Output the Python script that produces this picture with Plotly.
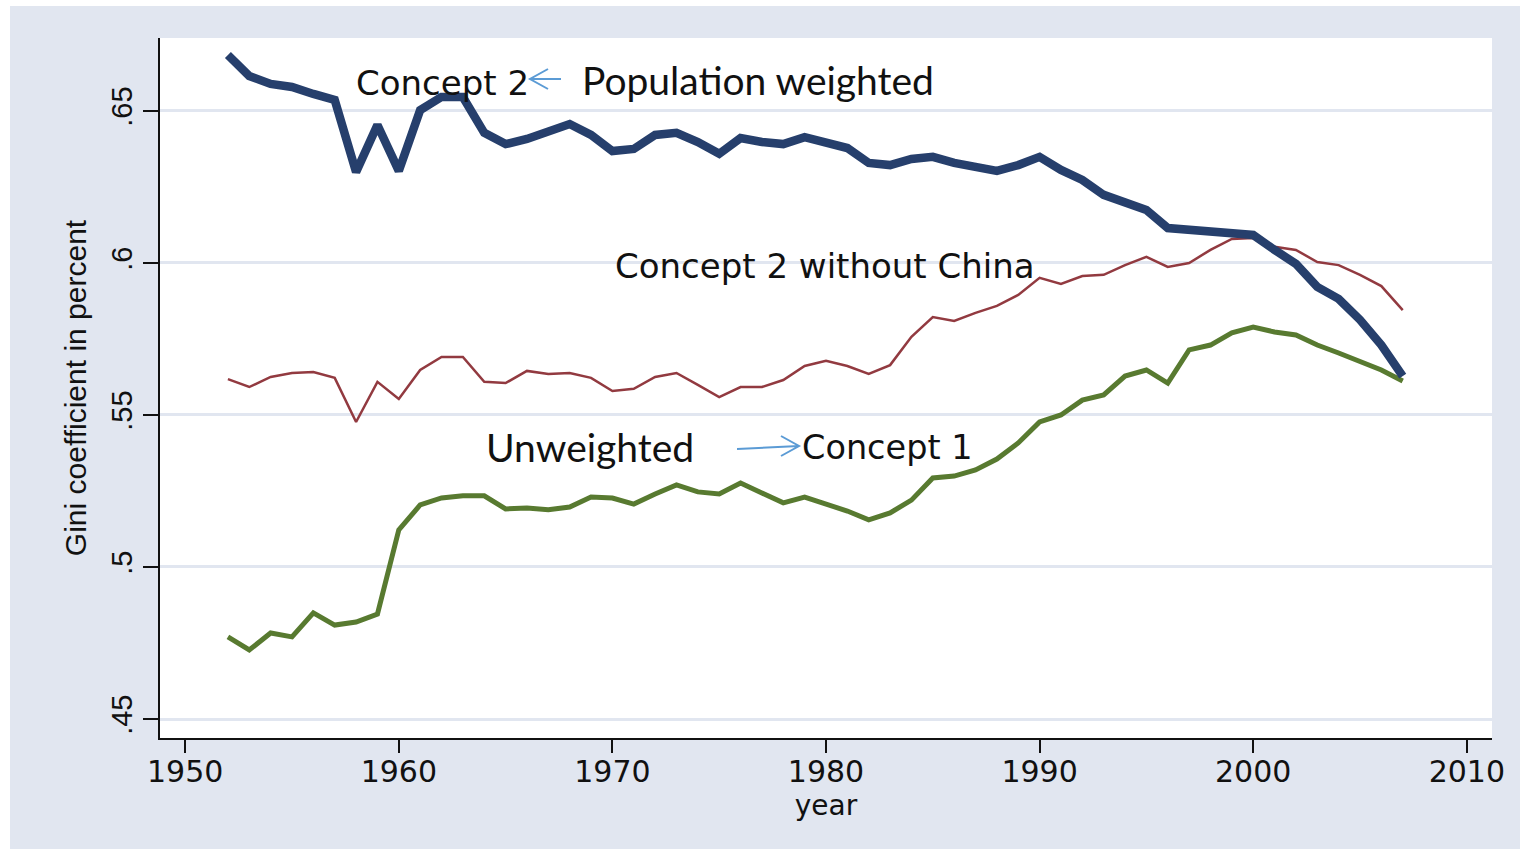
import plotly.graph_objects as go

# ---------------- data ----------------
years = list(range(1952, 2008))

concept2_pop_weighted = [
    0.6684, 0.6615, 0.6589, 0.6579, 0.6556, 0.6536, 0.6299, 0.6454, 0.6303, 0.6503,
    0.6546, 0.6546, 0.6428, 0.6391, 0.6408, 0.6431, 0.6457, 0.6421, 0.6368, 0.6375,
    0.6421, 0.6428, 0.6398, 0.6359, 0.6411, 0.6398, 0.6391, 0.6414, 0.6395, 0.6378,
    0.6329, 0.6322, 0.6342, 0.6349, 0.6329, 0.6313, 0.6303, 0.6322, 0.6349, 0.6306,
    0.6273, 0.6224, 0.6201, 0.6174, 0.6115, 0.6109, 0.6105, 0.6102, 0.6092, 0.6043,
    0.5997, 0.5921, 0.5882, 0.5813, 0.5730, 0.5628,
]

concept2_without_china = [
    0.5618, 0.5592, 0.5625, 0.5638, 0.5641, 0.5622, 0.5477, 0.5609, 0.5553, 0.5648,
    0.5691, 0.5691, 0.5609, 0.5605, 0.5645, 0.5635, 0.5638, 0.5622, 0.5579, 0.5586,
    0.5625, 0.5638, 0.5599, 0.5559, 0.5592, 0.5592, 0.5615, 0.5661, 0.5678, 0.5661,
    0.5635, 0.5664, 0.5757, 0.5822, 0.5809, 0.5836, 0.5859, 0.5895, 0.5951, 0.5931,
    0.5957, 0.5961, 0.5993, 0.6020, 0.5987, 0.6000, 0.6043, 0.6079, 0.6082, 0.6053,
    0.6043, 0.6003, 0.5993, 0.5961, 0.5924, 0.5845,
]

concept1_unweighted = [
    0.4770, 0.4727, 0.4783, 0.4770, 0.4849, 0.4809, 0.4819, 0.4845, 0.5122, 0.5204,
    0.5227, 0.5234, 0.5234, 0.5191, 0.5194, 0.5188, 0.5197, 0.5230, 0.5227, 0.5207,
    0.5240, 0.5270, 0.5247, 0.5240, 0.5276, 0.5243, 0.5211, 0.5230, 0.5207, 0.5184,
    0.5155, 0.5178, 0.5220, 0.5293, 0.5299, 0.5319, 0.5355, 0.5408, 0.5477, 0.5500,
    0.5549, 0.5566, 0.5628, 0.5648, 0.5605, 0.5714, 0.5730, 0.5770, 0.5789, 0.5773,
    0.5763, 0.5730, 0.5704, 0.5678, 0.5648, 0.5612,
]

x_tick_vals = [1950, 1960, 1970, 1980, 1990, 2000, 2010]
y_tick_vals = [0.45, 0.5, 0.55, 0.6, 0.65]
y_tick_text = [".45", ".5", ".55", ".6", ".65"]

# ---------------- layout geometry ----------------
W, H = 1520, 849
L, R, T, B = 160, 28, 38, 111
PW, PH = W - L - R, H - T - B


def px(x):
    """picture x pixel -> paper coordinate"""
    return (x - L) / PW


def py(y):
    """picture y pixel -> paper coordinate"""
    return (H - B - y) / PH


BG = "#e1e6f0"
NAVY = "#263f6c"
MAROON = "#923a40"
GREEN = "#587a30"
ARROW = "#5b9bd5"
STATA_FONT = "DejaVu Sans"

fig = go.Figure()
fig.add_trace(go.Scatter(x=years, y=concept2_without_china, mode="lines",
                         line=dict(color=MAROON, width=2.5), showlegend=False))
fig.add_trace(go.Scatter(x=years, y=concept1_unweighted, mode="lines",
                         line=dict(color=GREEN, width=5), showlegend=False))
fig.add_trace(go.Scatter(x=years, y=concept2_pop_weighted, mode="lines",
                         line=dict(color=NAVY, width=8.5), showlegend=False))

fig.update_layout(
    width=W, height=H,
    margin=dict(l=L, r=R, t=T, b=B),
    paper_bgcolor=BG,
    plot_bgcolor="white",
    showlegend=False,
    xaxis=dict(
        range=[1948.82, 2011.18],
        tickvals=x_tick_vals,
        ticks="outside", ticklen=13, tickwidth=1.5, tickcolor="#111",
        ticklabelstandoff=-7,
        showline=True, linecolor="#111", linewidth=1.5,
        showgrid=False, zeroline=False,
        tickfont=dict(family=STATA_FONT, size=30, color="#111"),
        title=dict(text="year", font=dict(family=STATA_FONT, size=28, color="#111"), standoff=0),
    ),
    yaxis=dict(
        range=[0.44375, 0.674],
        tickvals=y_tick_vals, ticktext=y_tick_text, tickangle=-90,
        ticks="outside", ticklen=15, tickwidth=1.5, tickcolor="#111",
        showline=True, linecolor="#111", linewidth=1.5,
        showgrid=True, gridcolor=BG, gridwidth=3, zeroline=False,
        tickfont=dict(family="Liberation Sans", size=29, color="#111"),
        title=dict(text="Gini coefficient in percent",
                   font=dict(family="Liberation Sans", size=30, color="#111"), standoff=10),
    ),
)

# white strips at the left and top edges of the picture
fig.add_shape(type="rect", xref="paper", yref="paper", x0=px(0), x1=px(10), y0=py(H), y1=py(0),
              fillcolor="white", line=dict(width=0), layer="below")
fig.add_shape(type="rect", xref="paper", yref="paper", x0=px(0), x1=px(W), y0=py(6), y1=py(0),
              fillcolor="white", line=dict(width=0), layer="below")

# text labels
labels = [
    ("Concept 2", 354, 83, STATA_FONT, 34),
    ("Population weighted", 580, 80, "Lato", 39),
    ("Concept 2 without China", 613, 266, STATA_FONT, 34),
    ("Unweighted", 484, 447, "Lato", 39),
    ("Concept 1", 800, 448, STATA_FONT, 33.5),
]
for text, lx, ly, fam, size in labels:
    fig.add_annotation(text=text, xref="paper", yref="paper", x=px(lx), y=py(ly),
                       xanchor="left", yanchor="middle", showarrow=False,
                       font=dict(family=fam, size=size, color="#111"))

# blue pointer arrows (open heads)
arrows = [
    ((561, 79), (530, 79), -1),
    ((737, 449), (799, 446), 1),
]
for (x0, y0), (x1, y1), d in arrows:
    path = (f"M {px(x0)},{py(y0)} L {px(x1)},{py(y1)} "
            f"M {px(x1 - d * 18)},{py(y1 - 10)} L {px(x1)},{py(y1)} L {px(x1 - d * 18)},{py(y1 + 10)}")
    fig.add_shape(type="path", xref="paper", yref="paper", path=path,
                  line=dict(color=ARROW, width=2))

fig.write_html(
    "out.html",
    config={"displayModeBar": False},
    post_script="document.body.style.margin='0';document.documentElement.style.overflow='hidden';",
)
